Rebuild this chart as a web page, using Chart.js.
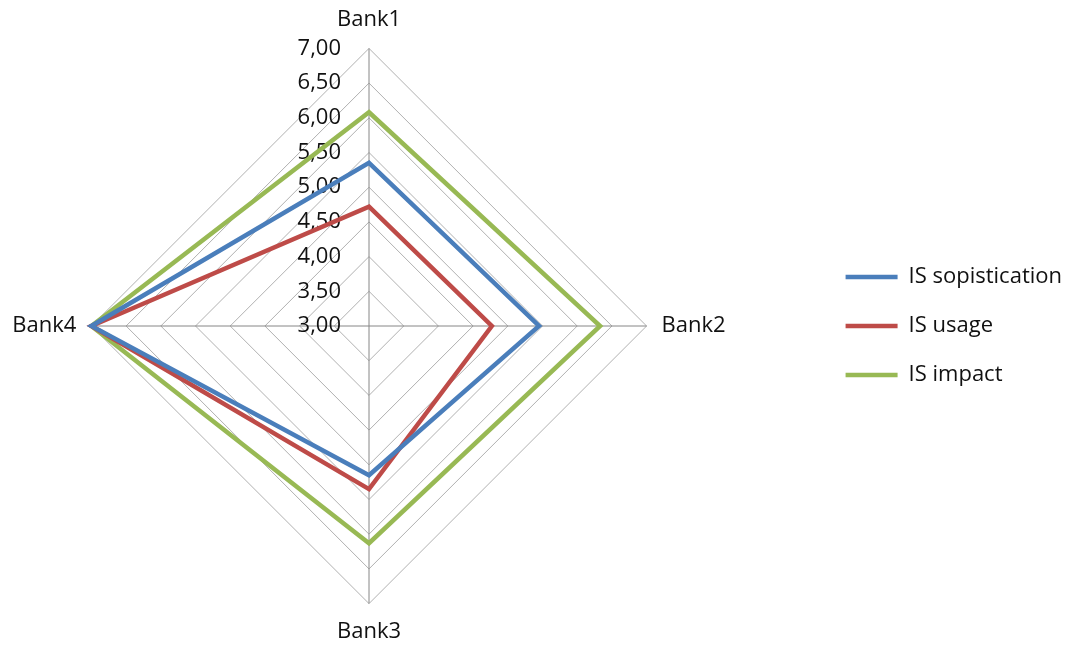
<!DOCTYPE html>
<html>
<head>
<meta charset="utf-8">
<script src="https://cdn.jsdelivr.net/npm/chart.js@4/dist/chart.umd.min.js"></script>
<style>
  html, body { margin: 0; padding: 0; background: #ffffff; }
  #wrap { width: 1076px; height: 645px; }
</style>
</head>
<body>
<div id="wrap"><canvas id="chart" width="1076" height="645"></canvas></div>
<script>
// Banks on the radar spokes (clockwise from the top)
const categories = ['Bank1', 'Bank2', 'Bank3', 'Bank4'];

// Scores per bank
const sophistication = [5.35, 5.45, 5.15, 7.00];
const usage          = [4.72, 4.77, 5.35, 7.00];
const impact         = [6.08, 6.33, 6.13, 7.00];

// Radial axis ticks
const tickValues = [3.0, 3.5, 4.0, 4.5, 5.0, 5.5, 6.0, 6.5, 7.0];
const tickLabels = ['3,00', '3,50', '4,00', '4,50', '5,00', '5,50', '6,00', '6,50', '7,00'];

const FONT = "'Open Sans', 'Liberation Sans', sans-serif";

// Empty layout box that keeps a gap between the radar and the legend
const legendGap = {
  id: 'legendGap',
  start(chart) {
    const box = {
      position: 'right',
      weight: 500,
      fullSize: false,
      options: {},
      width: 0, height: 0, left: 0, top: 0, right: 0, bottom: 0,
      isHorizontal() { return false; },
      update(maxWidth, maxHeight) { this.width = 79; this.height = maxHeight; },
      draw() {}
    };
    Chart.layouts.addBox(chart, box);
  }
};

// Draws the value labels to the left of the vertical spoke, right-aligned
const leftTickLabels = {
  id: 'leftTickLabels',
  beforeDatasetsDraw(chart) {
    const scale = chart.scales.r;
    const ctx = chart.ctx;
    ctx.save();
    ctx.font = '22px ' + FONT;
    ctx.fillStyle = '#111111';
    ctx.textAlign = 'right';
    ctx.textBaseline = 'middle';
    tickValues.forEach((v, i) => {
      const d = scale.getDistanceFromCenterForValue(v);
      ctx.fillText(tickLabels[i], scale.xCenter - 28, scale.yCenter - d);
    });
    ctx.restore();
  }
};

const series = (label, data, color) => ({
  label,
  data,
  borderColor: color,
  backgroundColor: color,
  borderWidth: 4.5,
  borderJoinStyle: 'miter',
  borderCapStyle: 'round',
  fill: false,
  tension: 0,
  pointRadius: 0,
  pointHoverRadius: 0
});

new Chart(document.getElementById('chart'), {
  type: 'radar',
  data: {
    labels: categories,
    datasets: [
      series('IS sopistication', sophistication, '#4a7ebb'),
      series('IS usage', usage, '#be4b48'),
      series('IS impact', impact, '#98b954')
    ]
  },
  options: {
    responsive: false,
    devicePixelRatio: 1,
    animation: false,
    layout: { padding: { top: 7, bottom: 0, left: 0, right: 4 } },
    plugins: {
      tooltip: { enabled: false },
      legend: {
        position: 'right',
        align: 'center',
        labels: {
          usePointStyle: true,
          pointStyle: 'line',
          pointStyleWidth: 52,
          padding: 27,
          color: '#111111',
          font: { family: FONT, size: 22 }
        }
      }
    },
    scales: {
      r: {
        min: 3,
        max: 7,
        ticks: { stepSize: 0.5, display: false },
        grid: { color: '#b0b0b0', lineWidth: 1, circular: false },
        angleLines: { color: '#868686', lineWidth: 1 },
        pointLabels: {
          padding: 15,
          color: '#111111',
          font: { family: FONT, size: 22 }
        }
      }
    }
  },
  plugins: [legendGap, leftTickLabels]
});
</script>
</body>
</html>
